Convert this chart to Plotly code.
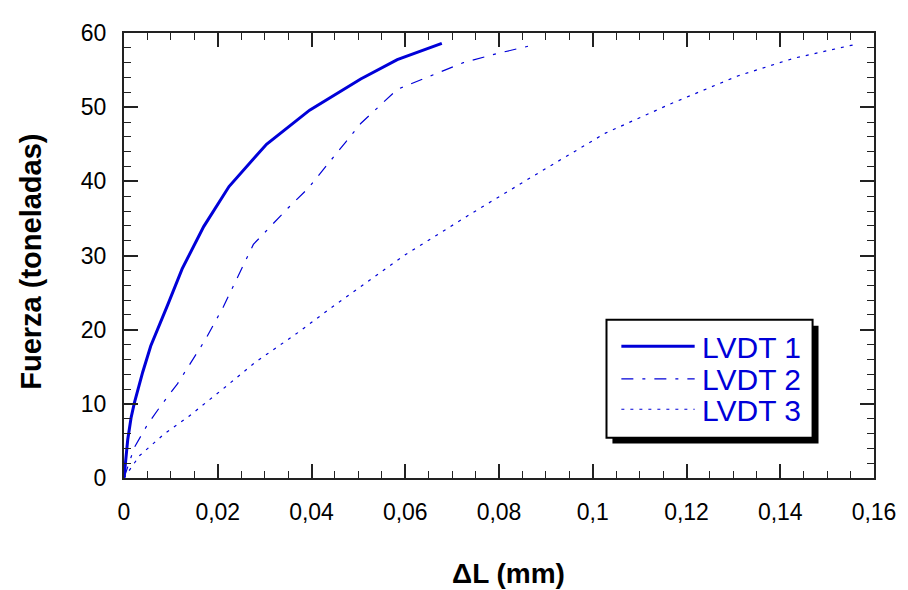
import plotly.graph_objects as go

# ---- data ----
lvdt1_x = [0, 0.0004, 0.0008, 0.0015, 0.0022, 0.004, 0.0057, 0.0093, 0.0124, 0.017,
           0.0224, 0.0304, 0.0396, 0.0505, 0.0583, 0.0678]
lvdt1_y = [0, 3.0, 5.2, 8.1, 10.1, 14.3, 17.8, 23.3, 28.2, 33.9,
           39.3, 45.0, 49.6, 53.8, 56.4, 58.6]

lvdt2_x = [0, 0.0022, 0.005, 0.0078, 0.0114, 0.0145, 0.0174, 0.0212, 0.0276, 0.035,
           0.0392, 0.0473, 0.0505, 0.0583, 0.0653, 0.0724, 0.0794, 0.0868]
lvdt2_y = [0, 4.1, 7.2, 9.7, 12.7, 15.8, 18.7, 23.1, 31.5, 36.4,
           39.0, 45.3, 47.8, 52.4, 54.2, 56.0, 57.2, 58.3]

lvdt3_x = [0, 0.0033, 0.0085, 0.0138, 0.0209, 0.028, 0.0371, 0.0445, 0.06, 0.0742,
           0.0886, 0.1027, 0.1168, 0.1309, 0.1429, 0.1563]
lvdt3_y = [0, 3.0, 5.9, 8.3, 11.9, 15.6, 19.6, 23.1, 30.1, 35.7,
           41.2, 46.5, 50.5, 54.2, 56.6, 58.5]

series_names = ["LVDT 1", "LVDT 2", "LVDT 3"]
x_tick_vals = [0, 0.02, 0.04, 0.06, 0.08, 0.1, 0.12, 0.14, 0.16]
x_tick_text = ["0", "0,02", "0,04", "0,06", "0,08", "0,1", "0,12", "0,14", "0,16"]
y_tick_vals = [0, 10, 20, 30, 40, 50, 60]

# ---- styling ----
BLUE = "#0000D8"
FONT = "Liberation Sans, Arial, sans-serif"
OFF = 8                      # page body margin
W, H = 900, 582
ML, MR, MT, MB = 116, 27, 17, 112
PW, PH = W - ML - MR, H - MT - MB

def px(xp):  # page pixel x -> paper
    return (xp - OFF - ML) / PW

def py(yp):  # page pixel y -> paper
    return (H - MB - (yp - OFF)) / PH

styles = [
    dict(width=3, dash="solid"),
    dict(width=1.2, dash="12px,9px,3px,9px"),
    dict(width=1.2, dash="3px,6px"),
]

fig = go.Figure()
for name, xs, ys, st in zip(series_names, [lvdt1_x, lvdt2_x, lvdt3_x],
                            [lvdt1_y, lvdt2_y, lvdt3_y], styles):
    fig.add_trace(go.Scatter(x=xs, y=ys, name=name, mode="lines",
                             line=dict(color=BLUE, width=st["width"], dash=st["dash"]),
                             showlegend=False))

axis_common = dict(
    showgrid=False, zeroline=False, showline=True, linecolor="#222", linewidth=2,
    mirror="allticks", ticks="inside", ticklen=14, tickwidth=1.5, tickcolor="#222",
    tickfont=dict(family=FONT, size=23, color="black"),
)

fig.update_xaxes(range=[0, 0.16], tickvals=x_tick_vals, ticktext=x_tick_text,
                 minor=dict(dtick=0.005, ticks="inside", ticklen=7, tickwidth=1.2, tickcolor="#222"),
                 ticklabelstandoff=12, **axis_common)
fig.update_yaxes(range=[0, 60], tickvals=y_tick_vals,
                 minor=dict(dtick=2, ticks="inside", ticklen=7, tickwidth=1.2, tickcolor="#222"),
                 ticklabelstandoff=11, **axis_common)

# legend box with drop shadow (drawn by hand)
shapes = [
    dict(type="rect", xref="paper", yref="paper", x0=px(617), x1=px(825), y0=py(443), y1=py(323),
         fillcolor="black", line=dict(width=0), layer="above"),
    dict(type="rect", xref="paper", yref="paper", x0=px(611), x1=px(819), y0=py(437), y1=py(317),
         fillcolor="white", line=dict(color="black", width=2), layer="above"),
]
legend_rows = [344, 377, 408]
for st, yrow in zip(styles, legend_rows):
    shapes.append(dict(type="line", xref="paper", yref="paper", x0=px(626), x1=px(700),
                       y0=py(yrow), y1=py(yrow),
                       line=dict(color=BLUE, width=st["width"] if st["width"] > 2 else 1.2,
                                 dash=st["dash"]), layer="above"))
annotations = []
for name, yrow in zip(series_names, legend_rows):
    annotations.append(dict(text=name, xref="paper", yref="paper", x=px(705), y=py(yrow + 1),
                            xanchor="left", yanchor="middle", showarrow=False,
                            font=dict(family=FONT, size=30, color=BLUE)))

# axis titles
annotations.append(dict(text="<b>ΔL (mm)</b>", xref="paper", yref="paper", x=px(512), y=py(575),
                        xanchor="center", yanchor="middle", showarrow=False,
                        font=dict(family=FONT, size=28, color="black")))
annotations.append(dict(text="<b>Fuerza (toneladas)</b>", xref="paper", yref="paper", x=px(30), y=py(258),
                        xanchor="center", yanchor="middle", showarrow=False, textangle=-90,
                        font=dict(family=FONT, size=29, color="black")))

fig.update_layout(
    width=W, height=H, margin=dict(l=ML, r=MR, t=MT, b=MB, pad=0),
    paper_bgcolor="white", plot_bgcolor="white",
    shapes=shapes, annotations=annotations, showlegend=False,
    separators=",.",
)

fig.write_html("out.html")
